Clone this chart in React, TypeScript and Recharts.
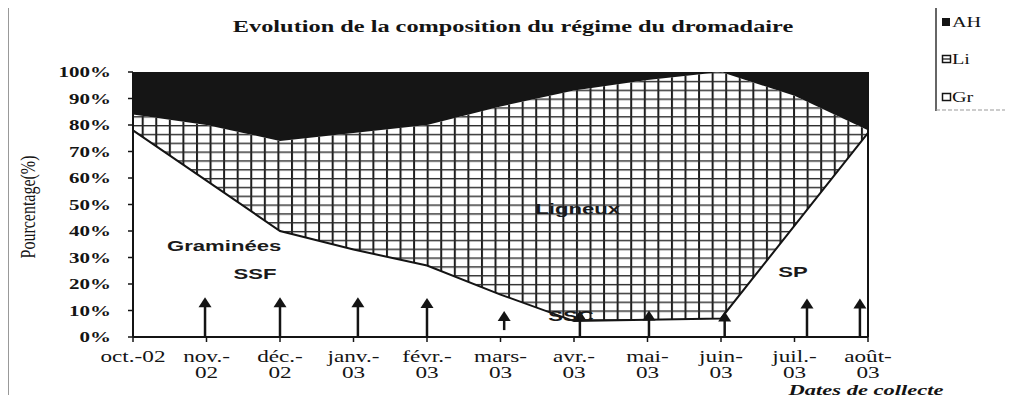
import React from "react";
import {
  ComposedChart,
  Area,
  Line,
  XAxis,
  YAxis,
  ReferenceLine,
  ReferenceDot,
} from "recharts";

// ---- data ----
const categories = [
  "oct.-02",
  "nov.-\n02",
  "déc.-\n02",
  "janv.-\n03",
  "févr.-\n03",
  "mars-\n03",
  "avr.-\n03",
  "mai-\n03",
  "juin-\n03",
  "juil.-\n03",
  "août-\n03",
];
const grValues = [78, 59, 40, 33, 27, 16, 6, 6.5, 7, 42, 77];
const liValues = [6, 21, 34, 44, 53, 71, 87, 90.5, 93, 49, 1];
const ahValues = [16, 20, 26, 23, 20, 13, 7, 3, 0, 9, 22];
const yTicks = [0, 10, 20, 30, 40, 50, 60, 70, 80, 90, 100];

const legendNames = ["AH", "Li", "Gr"];
const titleText = "Evolution de la composition du régime du dromadaire";
const yAxisTitle = "Pourcentage(%)";
const xAxisTitle = "Dates de collecte";

// annotations (in data coordinates: category index, percent)
const annotationTexts = ["Graminées", "SSF", "Ligneux", "SSC", "SP"];
const annotationX = [1.24, 1.66, 6.05, 5.96, 8.98];
const annotationY = [34.3, 23.8, 48.3, 7.9, 24.5];

// arrows (category index, from %, to %)
const arrowX = [0.98, 2.0, 3.06, 4.0, 5.05, 6.08, 7.02, 8.05, 9.17, 9.89];
const arrowFrom = [0, 0, 0, 0, 2.6, 0, 0, 0, 0, 0];
const arrowTo = [15, 15, 15, 14.7, 9.8, 10, 10, 9.6, 14.5, 14.5];

const data = categories.map((c, i) => ({
  cat: c,
  Gr: grValues[i],
  Li: liValues[i],
  AH: ahValues[i],
}));

const SERIF = "'Liberation Serif', 'Times New Roman', serif";
const SANS = "'Liberation Sans', Arial, sans-serif";
const INK = "#141414";

const XTick = (props: any) => {
  const { x, y, payload } = props;
  const lines = String(payload.value).split("\n");
  return (
    <g transform={`translate(${x},${y}) scale(1.45,1)`}>
      <text textAnchor="middle" fontFamily={SERIF} fontSize={16} fill={INK}>
        {lines.map((l, i) => (
          <tspan key={i} x={0} y={18 + i * 16}>
            {l}
          </tspan>
        ))}
      </text>
    </g>
  );
};

const YTick = (props: any) => {
  const { x, y, payload } = props;
  return (
    <g transform={`translate(${x},${y}) scale(1.4,1)`}>
      <text
        textAnchor="end"
        dy="0.36em"
        fontFamily={SERIF}
        fontWeight="bold"
        fontSize={15}
        fill={INK}
      >
        {`${payload.value}%`}
      </text>
    </g>
  );
};

const ArrowShape = (p: any) => {
  const { x1, y1, x2, y2 } = p;
  const top = Math.min(y1, y2);
  const bot = Math.max(y1, y2);
  const x = x1;
  return (
    <g>
      <line x1={x} x2={x} y1={bot} y2={top + 8} stroke={INK} strokeWidth={2.5} />
      <polygon
        points={`${x - 6.5},${top + 10} ${x + 6.5},${top + 10} ${x},${top}`}
        fill={INK}
      />
    </g>
  );
};

const makeLabel = (text: string) => (p: any) => {
  const { cx, cy } = p;
  return (
    <g transform={`translate(${cx},${cy}) scale(1.58,1)`}>
      <text
        textAnchor="middle"
        dy="0.36em"
        fontFamily={SANS}
        fontWeight="bold"
        fontSize={14}
        fill="#1a1a1a"
      >
        {text}
      </text>
    </g>
  );
};

export default function App() {
  return (
    <div style={{ position: "relative", width: 997, height: 387 }}>
      <ComposedChart
        width={997}
        height={387}
        data={data}
        margin={{ top: 64, right: 137, bottom: 18, left: 55 }}
      >
        <defs>
          <pattern
            id="liGrid"
            patternUnits="userSpaceOnUse"
            x={133.7}
            y={64}
            width={13.57}
            height={8.83}
          >
            <rect x={0} y={0} width={13.57} height={8.83} fill="#ffffff" />
            <rect x={0} y={0} width={2} height={8.83} fill="#1e1e1e" />
            <rect x={0} y={0} width={13.57} height={1.4} fill="#2a2a2a" />
          </pattern>
        </defs>
        <XAxis
          xAxisId="cat"
          dataKey="cat"
          scale="point"
          padding={{ left: 0, right: 0 }}
          interval={0}
          height={40}
          tick={<XTick />}
          tickSize={5}
          tickMargin={2}
          axisLine={{ stroke: INK, strokeWidth: 2 }}
          tickLine={{ stroke: INK, strokeWidth: 1.5 }}
        />
        <XAxis
          xAxisId="num"
          type="number"
          domain={[0, 10]}
          allowDataOverflow
          hide
        />
        <YAxis
          domain={[0, 100]}
          ticks={yTicks}
          interval={0}
          width={70}
          tick={<YTick />}
          tickSize={5}
          tickMargin={17}
          axisLine={{ stroke: INK, strokeWidth: 2 }}
          tickLine={{ stroke: INK, strokeWidth: 1.5 }}
        />
        <Area
          xAxisId="cat"
          type="linear"
          dataKey="Gr"
          stackId="s"
          fill="#ffffff"
          fillOpacity={1}
          stroke="none"
          isAnimationActive={false}
        />
        <Area
          xAxisId="cat"
          type="linear"
          dataKey="Li"
          stackId="s"
          fill="url(#liGrid)"
          fillOpacity={1}
          stroke="none"
          isAnimationActive={false}
        />
        <Area
          xAxisId="cat"
          type="linear"
          dataKey="AH"
          stackId="s"
          fill="#151515"
          fillOpacity={1}
          stroke="none"
          isAnimationActive={false}
        />
        <Line
          xAxisId="cat"
          type="linear"
          dataKey="Gr"
          stroke={INK}
          strokeWidth={2}
          dot={false}
          activeDot={false}
          isAnimationActive={false}
        />
        <ReferenceLine
          xAxisId="cat"
          x={categories[categories.length - 1]}
          stroke={INK}
          strokeWidth={2}
        />
        {arrowX.map((ax, i) => (
          <ReferenceLine
            key={`arrow-${i}`}
            xAxisId="num"
            segment={[
              { x: ax, y: arrowFrom[i] },
              { x: ax, y: arrowTo[i] },
            ]}
            shape={ArrowShape}
          />
        ))}
        {annotationTexts.map((t, i) => (
          <ReferenceDot
            key={`ann-${i}`}
            xAxisId="num"
            x={annotationX[i]}
            y={annotationY[i]}
            r={1}
            shape={makeLabel(t)}
          />
        ))}
      </ComposedChart>

      <svg
        width={1013}
        height={403}
        style={{
          position: "absolute",
          left: -8,
          top: -8,
          pointerEvents: "none",
          overflow: "visible",
        }}
      >
        {/* outer frame */}
        <line x1={8} y1={5} x2={936} y2={5} stroke="#9a9a9a" strokeWidth={1} strokeDasharray="4 2" />
        <line x1={8} y1={5} x2={8} y2={403} stroke="#555" strokeWidth={1.2} />
        {/* legend box */}
        <line x1={920} y1={7} x2={1013} y2={7} stroke="#777" strokeWidth={1} strokeDasharray="4 2" />
        <line x1={936} y1={7} x2={936} y2={111} stroke="#333" strokeWidth={1.5} />
        <line x1={936} y1={110} x2={1013} y2={110} stroke="#999" strokeWidth={1} strokeDasharray="4 2" />
        {/* legend items */}
        <rect x={942} y={18} width={8} height={8} fill={INK} />
        <rect x={942.5} y={55.5} width={8} height={7} fill="#fff" stroke={INK} strokeWidth={1.5} />
        <line x1={942.5} x2={950.5} y1={59} y2={59} stroke={INK} strokeWidth={1.2} />
        <rect x={942.5} y={93.5} width={8} height={7} fill="#fff" stroke={INK} strokeWidth={1.5} />
        {legendNames.map((n, i) => (
          <g key={n} transform={`translate(952,${[27, 64, 102][i]}) scale(1.35,1)`}>
            <text fontFamily={SERIF} fontSize={15} fill={INK}>
              {n}
            </text>
          </g>
        ))}
        {/* title */}
        <g transform="translate(513,32) scale(1.52,1)">
          <text textAnchor="middle" fontFamily={SERIF} fontWeight="bold" fontSize={16} fill={INK}>
            {titleText}
          </text>
        </g>
        {/* y-axis title */}
        <g transform="translate(35,207) scale(1.3,1) rotate(-90)">
          <text textAnchor="middle" fontFamily={SERIF} fontSize={16} fill={INK}>
            {yAxisTitle}
          </text>
        </g>
        {/* x-axis title */}
        <g transform="translate(866,395) scale(1.5,1)">
          <text
            textAnchor="middle"
            fontFamily={SERIF}
            fontWeight="bold"
            fontStyle="italic"
            fontSize={15}
            fill={INK}
          >
            {xAxisTitle}
          </text>
        </g>
      </svg>
    </div>
  );
}
